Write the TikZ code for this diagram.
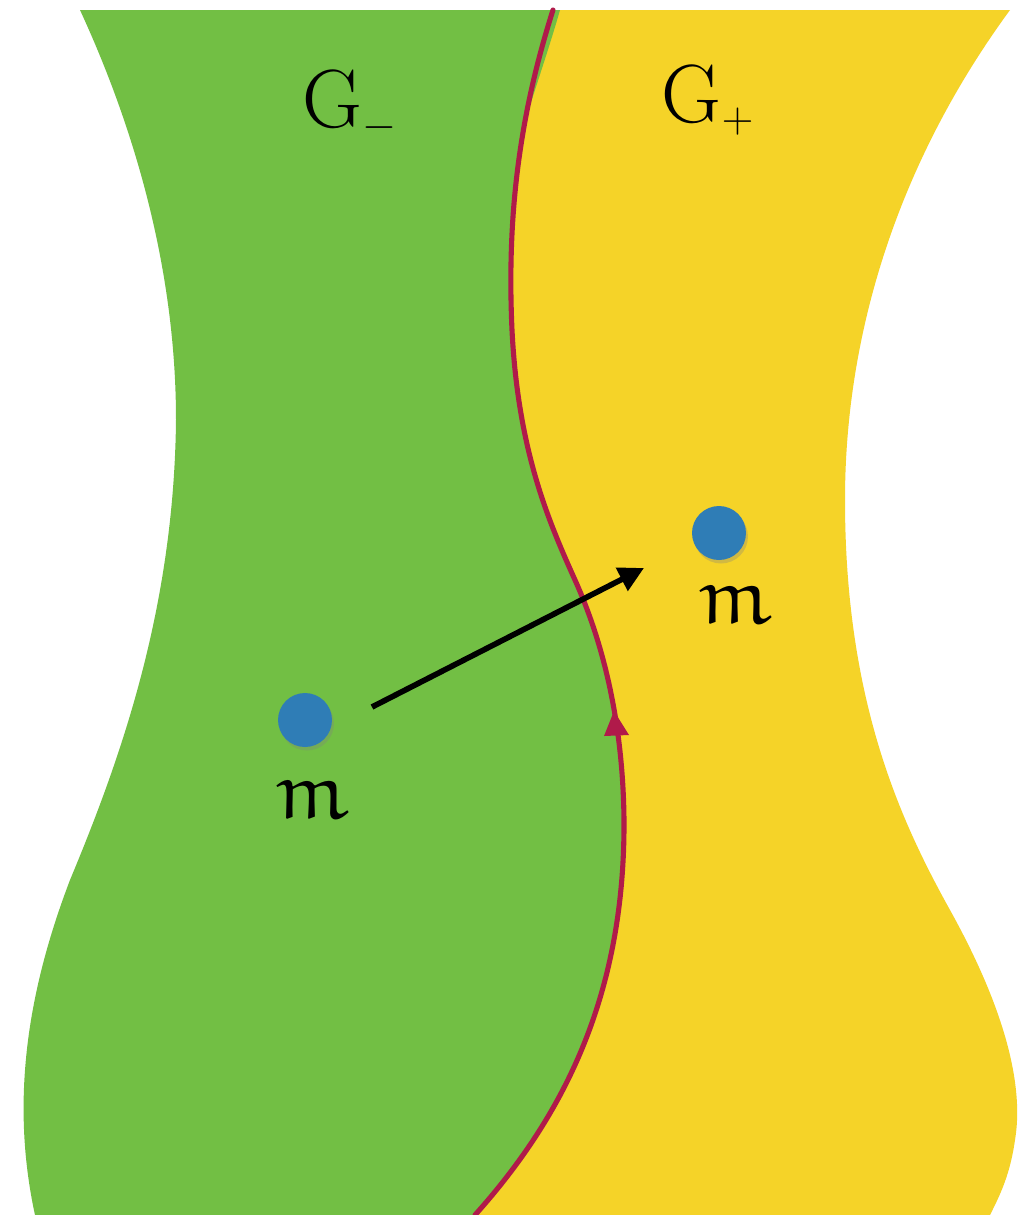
\documentclass[tikz,border=0pt]{standalone}
\usepackage{amssymb}
\DeclareMathAlphabet{\eurm}{U}{eur}{m}{n}
\usetikzlibrary{arrows.meta,shadows}
\definecolor{gfill}{HTML}{72BF44}
\definecolor{yfill}{HTML}{F5D328}
\definecolor{redline}{HTML}{B01A4A}
\definecolor{dotblue}{HTML}{2F7DB6}
\tikzset{
  dot/.style={circle,fill=dotblue,minimum size=1.08cm,inner sep=0pt,
    drop shadow={opacity=0.3,shadow xshift=0.04cm,shadow yshift=-0.07cm}},
  lbl/.style={font=\fontsize{46}{50}\selectfont},
  glbl/.style={font=\fontsize{47}{52}\selectfont},
  boundary/.style={draw=redline,line width=2.9pt,line cap=round}
}
\def\redpath{(553,10) .. controls (518,120) and (507,220) .. (512,330)
  .. controls (518,450) and (548,520) .. (575,580)
  .. controls (602,640) and (623,720) .. (624,820)
  .. controls (625,1000) and (560,1120) .. (475,1215)}
\begin{document}
\begin{tikzpicture}[x=0.02cm,y=-0.02cm]
\useasboundingbox[fill=white] (0,0) rectangle (1027,1215);
% yellow region
\fill[yfill] \redpath -- (990,1215)
  .. controls (1000,1195) and (1010,1175) .. (1015,1140)
  .. controls (1025,1080) and (1000,1000) .. (950,910)
  .. controls (900,820) and (845,700) .. (845,500)
  .. controls (845,330) and (900,160) .. (1010,10) -- cycle;
% green region
\fill[gfill] \redpath -- (35,1215)
  .. controls (10,1100) and (28,990) .. (70,880)
  .. controls (120,760) and (174,610) .. (176,420)
  .. controls (176,280) and (140,140) .. (80,10) -- cycle;
% thin green sliver at the top right of the boundary
\fill[gfill] (553,10) -- (560,10) .. controls (550,45) and (538,80) .. (528,112) -- (525,112) -- cycle;
% red boundary
\draw[boundary] \redpath;
\fill[redline] (614,711) -- (629,735) -- (604,736) -- cycle;
% labels
\node[glbl] (gm) at (350,106) {G$_{-}$};
\node[glbl] (gp) at (708,100) {G$_{+}$};
% points
\node[dot] (d1) at (305,720) {};
\node[dot] (d2) at (719,533) {};
\node[lbl] (m1) at (312,800) {$\eurm{m}$};
\node[lbl] (m2) at (735,605) {$\eurm{m}$};
% arrow
\coordinate (a0) at (372,707);
\coordinate (a1) at (644,568);
\draw[line width=3.2pt,-{Triangle[length=0.5cm,width=0.5cm]}] (a0) -- (a1);
\end{tikzpicture}
\end{document}
